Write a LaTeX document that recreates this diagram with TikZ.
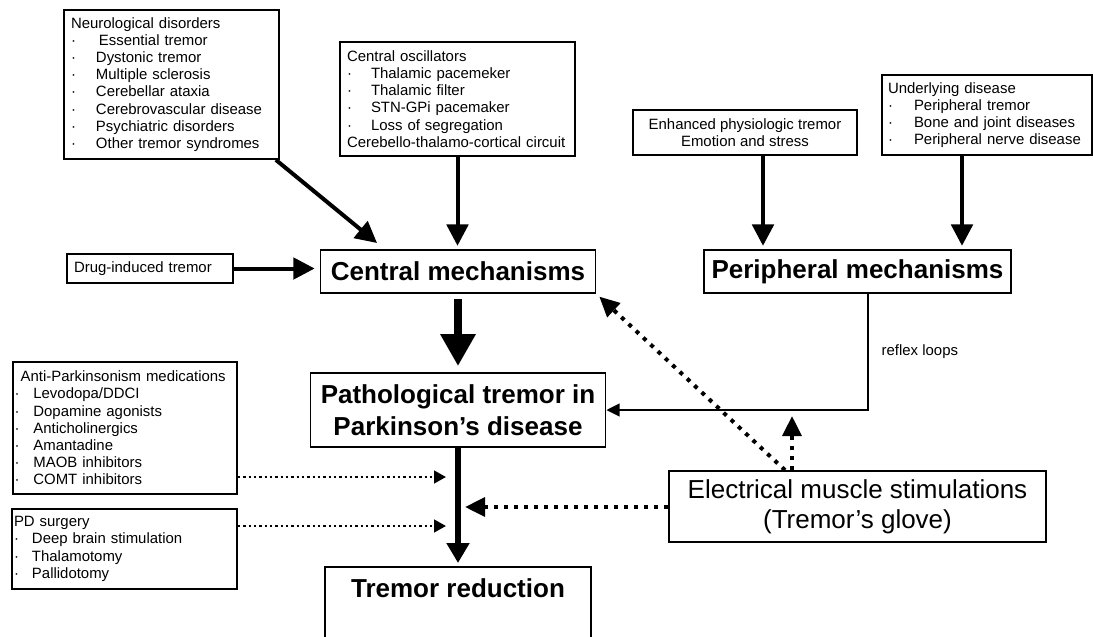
\documentclass[tikz,border=0pt]{standalone}
\usepackage{fontspec}
\setmainfont{Liberation Sans}
\usetikzlibrary{arrows.meta}

\newcommand{\bul}[1]{\makebox[#1][l]{·}}
\newcommand{\listfont}{\fontsize{11.2pt}{12.9pt}\selectfont}
\newcommand{\headfont}{\fontsize{19.5pt}{24pt}\selectfont\bfseries}
\newcommand{\emsfont}{\fontsize{19.5pt}{22.5pt}\selectfont}

\begin{document}
\begin{tikzpicture}[x=0.75pt,y=-0.75pt,
	box/.style={draw,line width=1.3pt,inner ysep=0pt,align=left,font=\listfont},
	headbox/.style={draw,line width=1.3pt,align=center,inner sep=0pt,font=\headfont},
	arr/.style={line width=3pt,-{Triangle[length=16pt,width=16pt]},shorten >=2.5pt},
	dotarr/.style={line width=1.8pt,dash pattern=on 1.8pt off 2.2pt,-{Triangle[length=9pt,width=9.5pt]}},
	emsarr/.style={line width=3pt,dash pattern=on 3pt off 4.5pt,-{Triangle[length=15pt,width=14pt]}}]
	\useasboundingbox (0,0) rectangle (1093,636);
	
	% causes
	\node[box,text width=150.75pt,minimum height=111.75pt,inner xsep=5.25pt] (neuro) at (171.5,84.5) {Neurological disorders\\ \bul{18.75pt}\hspace{2.25pt}Essential tremor\\ \bul{18.75pt}Dystonic tremor\\ \bul{18.75pt}Multiple sclerosis\\ \bul{18.75pt}Cerebellar ataxia\\ \bul{18.75pt}Cerebrovascular disease\\ \bul{18.75pt}Psychiatric disorders\\ \bul{18.75pt}Other tremor syndromes};
	\node[box,text width=165.75pt,minimum height=85.5pt,inner xsep=5.25pt] (osc) at (457.5,99) {Central oscillators\\ \bul{18pt}Thalamic pacemeker\\ \bul{18pt}Thalamic filter\\ \bul{18pt}STN-GPi pacemaker\\ \bul{18pt}Loss of segregation\\ Cerebello-thalamo-cortical circuit};
	\node[box,text width=114pt,minimum height=21.75pt,inner xsep=5.25pt] (drug) at (150,268.5) {Drug-induced tremor};
	\node[box,align=center,minimum width=168pt,minimum height=33.75pt] (enh) at (745,132.5) {Enhanced physiologic tremor\\ Emotion and stress};
	\node[box,text width=148.5pt,minimum height=60pt,inner xsep=4.5pt] (under) at (987,115) {Underlying disease\\ \bul{19.5pt}Peripheral tremor\\ \bul{19.5pt}Bone and joint diseases\\ \bul{19.5pt}Peripheral nerve disease};
	
	% mechanisms and tremor
	\node[headbox,minimum width=206.25pt,minimum height=32.25pt] (central) at (458,271.5) {Central mechanisms};
	\node[headbox,minimum width=230.25pt,minimum height=32.25pt] (periph) at (857.5,271.5) {Peripheral mechanisms};
	\node[headbox,minimum width=221.25pt,minimum height=55.5pt] (patho) at (458,410) {Pathological tremor in\\ Parkinson’s disease};
	\node[headbox,anchor=north,minimum width=199.5pt,inner ysep=9pt,text depth=60pt] (reduc) at (458,566) {Tremor reduction};
	
	% treatments
	\node[box,text width=165.4pt,minimum height=99pt,inner xsep=1.3pt] (anti) at (125,428) {\hspace*{4.5pt}Anti-Parkinsonism medications\\ \bul{14pt}Levodopa/DDCI\\ \bul{14pt}Dopamine agonists\\ \bul{14pt}Anticholinergics\\ \bul{14pt}Amantadine\\ \bul{14pt}MAOB inhibitors\\ \bul{14pt}COMT inhibitors};
	\node[box,text width=165.75pt,minimum height=60pt,inner xsep=1.5pt] (pd) at (124.5,549) {PD surgery\\ \bul{13.5pt}Deep brain stimulation\\ \bul{13.5pt}Thalamotomy\\ \bul{13.5pt}Pallidotomy};
	\node[draw,line width=1.3pt,align=center,inner sep=0pt,font=\emsfont,minimum width=282.75pt,minimum height=53.25pt] (ems) at (857.5,506.5) {Electrical muscle stimulations\\ (Tremor’s glove)};
	
	\coordinate (medtip) at (446,477); \coordinate (surgtip) at (446,526);
	\coordinate (emstip) at (465,507); \coordinate (reflextip) at (792,416);
	
	% solid arrows
	\draw[arr] ([xshift=-3pt]neuro.south east) -- ([xshift=45pt,yshift=3pt]central.north west);
	\draw[arr] (osc.south) -- (osc.south |- central.north);
	\draw[arr,shorten >=3.75pt] (drug.east) -- (drug.east -| central.west);
	\draw[arr] ([xshift=13.5pt]enh.south) coordinate (e1) -- (e1 |- periph.north);
	\draw[arr] ([xshift=-18.75pt]under.south) coordinate (u1) -- (u1 |- periph.north);
	\draw[line width=6pt,-{Triangle[length=24pt,width=25pt]},shorten <=4pt,shorten >=4.5pt] (central) -- (patho);
	\draw[line width=4pt,-{Triangle[length=15pt,width=16.5pt]},shorten >=2.25pt] (patho) -- (reduc);
	\draw[line width=1.8pt,-{Triangle[length=10pt,width=9.5pt]}] ([xshift=7.9pt]periph.south) |- node[pos=0.25,right=6pt,font=\listfont]{reflex loops} (patho.east);
	
	% dotted arrows
	\draw[dotarr] (anti.east |- medtip) -- (medtip);
	\draw[dotarr] (pd.east |- surgtip) -- (surgtip);
	\draw[emsarr] (ems.west |- emstip) -- (emstip);
	\draw[emsarr] (ems.north -| reflextip) -- (reflextip);
	\draw[emsarr,shorten >=3pt] ([xshift=-54.4pt]ems.north) -- (central.south east);
\end{tikzpicture}
\end{document}
